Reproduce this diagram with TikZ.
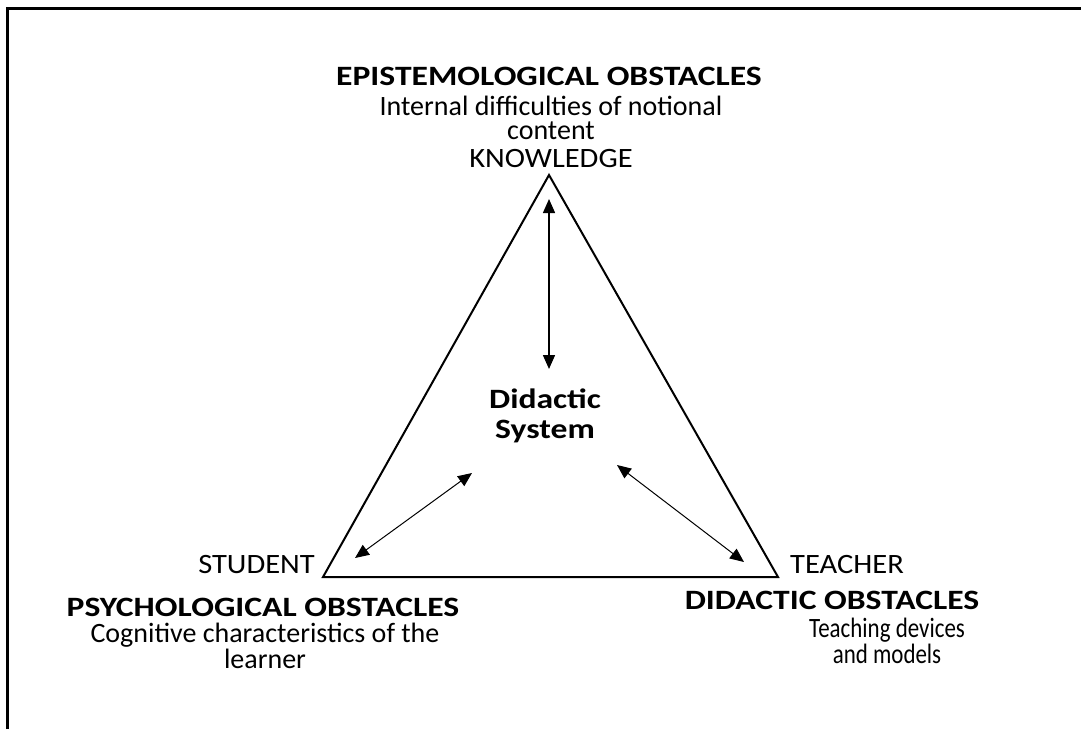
\documentclass[tikz,border=0pt]{standalone}
\usepackage{fontspec}
\setmainfont{Carlito}
\newfontfamily\widefont[FakeStretch=1.2]{Carlito}
\newfontfamily\cornerfont[FakeStretch=1.09]{Carlito}
\newfontfamily\narrowfont[FakeStretch=0.82]{Carlito}
\usetikzlibrary{arrows.meta}

\begin{document}
\begin{tikzpicture}[x=1pt, y=-1pt,
  every node/.style = {inner sep=0pt, align=center},
  corner/.style = {font=\cornerfont\fontsize{28}{22}\selectfont},
  note/.style = {font=\fontsize{28}{22}\selectfont},
  heading/.style = {font=\widefont\fontsize{28}{30}\selectfont\bfseries},
  link/.style = {{Triangle[length=14pt,width=12pt]}-{Triangle[length=14pt,width=12pt]}}]
  \useasboundingbox (0,0) rectangle (1081,729);
  \draw[line width=3pt] (7.5,729) -- (7.5,8.5) -- (1081,8.5);

  % the didactic triangle
  \coordinate (knowledge) at (549,175);
  \coordinate (student) at (323,577);
  \coordinate (teacher) at (778,577);
  \draw[line width=2pt, line join=miter] (knowledge) -- (teacher) -- (student) -- cycle;

  \node[heading, anchor=base] (system) at (545,438) {Didactic\\System};

  % vertex labels
  \node[corner, anchor=base] (knowlabel) at (551,167) {KNOWLEDGE};
  \node[corner, anchor=base east] (studlabel) at (315,573) {STUDENT};
  \node[corner, anchor=base west] (teachlabel) at (790,573) {TEACHER};

  % obstacles
  \node[heading, anchor=base] (epistem) at (549,85) {EPISTEMOLOGICAL OBSTACLES};
  \node[note, font=\fontsize{28}{24}\selectfont, anchor=base] (epinote) at (551,139)
    {Internal difficulties of notional\\content};
  \node[heading, anchor=base] (psycho) at (263,616) {PSYCHOLOGICAL OBSTACLES};
  \node[note, anchor=base] (psynote) at (265,668) {Cognitive characteristics of the\\learner};
  \node[heading, anchor=base] (didact) at (832,609) {DIDACTIC OBSTACLES};
  \node[note, font=\narrowfont\fontsize{28}{23}\selectfont, anchor=base] (didnote) at (887,663)
    {Teaching devices\\and models};

  % relations inside the system
  \coordinate (k1) at (549,199);
  \coordinate (k2) at (549,369);
  \coordinate (s1) at (472,473);
  \coordinate (s2) at (355,558);
  \coordinate (t1) at (617,465);
  \coordinate (t2) at (744,562);
  \draw[link, line width=1.5pt] (k1) -- (k2);
  \draw[link, line width=1pt] (s1) -- (s2);
  \draw[link, line width=1pt] (t1) -- (t2);
\end{tikzpicture}
\end{document}
